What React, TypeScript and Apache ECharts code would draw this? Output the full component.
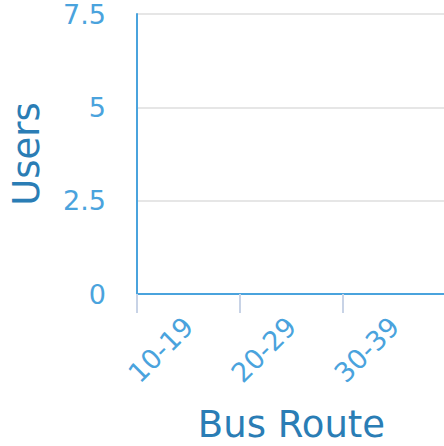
import React, { useEffect, useRef } from "react";
import * as echarts from "echarts";

const categories = ["10-19", "20-29", "30-39"];
const users = [0, 0, 0];
const yTicks = { min: 0, max: 7.5, interval: 2.5 };

const FONT = "DejaVu Sans";

export default function App() {
  const ref = useRef<HTMLDivElement>(null);
  useEffect(() => {
    document.body.style.margin = "0";
    document.body.style.overflow = "hidden";
    const chart = echarts.init(ref.current!, null, { renderer: "svg" });
    chart.setOption({
      animation: false,
      textStyle: { fontFamily: FONT },
      grid: {
        left: 137,
        top: 14,
        width: 309,
        height: 280,
        containLabel: false,
        outerBoundsMode: "none",
      },
      xAxis: {
        type: "category",
        data: categories,
        name: "Bus Route",
        nameLocation: "middle",
        nameGap: 112,
        nameTextStyle: { color: "#2a7db5", fontSize: 37, fontFamily: FONT },
        axisLine: { show: true, lineStyle: { color: "#4aa3dd", width: 2 } },
        axisTick: { show: true, length: 19, lineStyle: { color: "#c8d3e6", width: 2 } },
        axisLabel: {
          rotate: 45,
          color: "#4aa3dd",
          fontSize: 27,
          margin: 28,
          fontFamily: FONT,
        },
        splitLine: { show: false },
      },
      yAxis: {
        type: "value",
        min: yTicks.min,
        max: yTicks.max,
        interval: yTicks.interval,
        name: "Users",
        nameLocation: "middle",
        nameGap: 92,
        nameTextStyle: { color: "#2a7db5", fontSize: 37, fontFamily: FONT },
        axisLine: { show: true, lineStyle: { color: "#4aa3dd", width: 2 } },
        axisTick: { show: false },
        axisLabel: {
          color: "#4aa3dd",
          fontSize: 27,
          margin: 31,
          fontFamily: FONT,
          formatter: (v: number) => String(v),
        },
        splitLine: { show: true, lineStyle: { color: "#e6e6e6", width: 2 } },
      },
      series: [
        {
          type: "bar",
          data: users,
          itemStyle: { color: "#4aa3dd" },
        },
      ],
    });
    return () => chart.dispose();
  }, []);
  return <div ref={ref} style={{ width: 444, height: 446 }} />;
}
